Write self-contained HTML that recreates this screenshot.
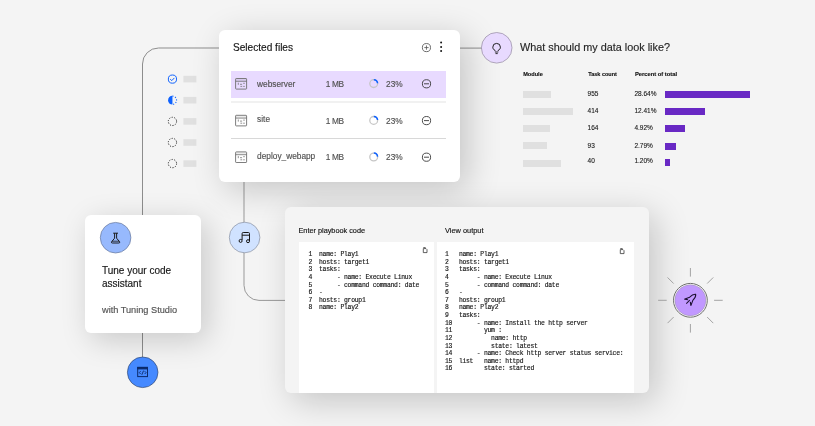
<!DOCTYPE html>
<html><head><meta charset="utf-8">
<style>
*{box-sizing:border-box;margin:0;padding:0}
html,body{width:815px;height:426px;overflow:hidden;background:#f4f4f4}
body{position:relative;font-family:"Liberation Sans",sans-serif;color:#161616}
.abs{position:absolute}
.t{position:absolute;white-space:nowrap;line-height:1;-webkit-text-stroke:0.15px currentColor}
svg{position:absolute;overflow:visible}
.card{position:absolute;background:#fff;border-radius:6px}
.mono{position:absolute;font-family:"Liberation Mono",monospace;font-size:6.4px;letter-spacing:-0.26px;line-height:7.61px;white-space:pre;color:#161616}
.num{-webkit-text-stroke:0.18px #161616}
.mono{-webkit-text-stroke:0.15px #161616}
.gb{position:absolute;background:#e0e0e0;height:7px}
.pb{position:absolute;background:#6929c4;height:7px}
.tn{position:absolute;white-space:nowrap;line-height:1;font-size:6.5px;color:#161616;-webkit-text-stroke:0.1px currentColor}
</style></head>
<body>
<svg width="815" height="426" style="left:0;top:0">
  <g fill="none" stroke="#8d8d8d" stroke-width="1">
    <path d="M142.5 216 V64 A16 16 0 0 1 158.5 48 H220"/>
    <path d="M142.5 332 V358"/>
    <path d="M459 48.1 H482"/>
    <path d="M244 181 V285.4 A15 15 0 0 0 259 300.4 H286" stroke="#999"/>
  </g>
</svg>
<svg width="815" height="426" style="left:0;top:0">
<circle cx="172.45" cy="79.1" r="4.1" fill="none" stroke="#0f62fe" stroke-width="1"/>
<path d="M170.2 79.2 L171.8 80.6 L174.4 77.9" fill="none" stroke="#0f62fe" stroke-width="1"/>
<path d="M172.45 95.8 A4.4 4.4 0 0 0 172.45 104.60000000000001 Z" fill="#0f62fe"/>
<path d="M172.45 96.10000000000001 A4.1 4.1 0 0 1 172.45 104.3" fill="none" stroke="#0f62fe" stroke-width="1.1" stroke-dasharray="1.1 1.6"/>
<circle cx="172.45" cy="121.4" r="4.15" fill="none" stroke="#262626" stroke-width="1" stroke-dasharray="1.15 1.456"/>
<circle cx="172.45" cy="142.5" r="4.15" fill="none" stroke="#262626" stroke-width="1" stroke-dasharray="1.15 1.456"/>
<circle cx="172.45" cy="163.6" r="4.15" fill="none" stroke="#262626" stroke-width="1" stroke-dasharray="1.15 1.456"/>
<rect x="183.4" y="75.80" width="13" height="6.6" fill="#e0e0e0"/>
<rect x="183.4" y="96.90" width="13" height="6.6" fill="#e0e0e0"/>
<rect x="183.4" y="118.10" width="13" height="6.6" fill="#e0e0e0"/>
<rect x="183.4" y="139.20" width="13" height="6.6" fill="#e0e0e0"/>
<rect x="183.4" y="160.30" width="13" height="6.6" fill="#e0e0e0"/>
</svg>
<div class="card" id="files" style="left:219px;top:30px;width:241px;height:152px;box-shadow:7px 7px 34px rgba(0,0,0,0.20)"></div>
<div class="t" id="seltitle" style="left:233px;top:42.55px;font-size:10.1px">Selected files</div>
<svg width="815" height="426" style="left:0;top:0">
<circle cx="426.45" cy="47.6" r="4.05" fill="none" stroke="#525252" stroke-width="0.85"/>
<path d="M424.3 47.6 H428.6 M426.45 45.45 V49.75" stroke="#525252" stroke-width="0.8"/>
<circle cx="441.1" cy="42.6" r="1" fill="#161616"/>
<circle cx="441.1" cy="46.9" r="1" fill="#161616"/>
<circle cx="441.1" cy="51.1" r="1" fill="#161616"/>
</svg>
<div class="abs" style="left:231px;top:71.1px;width:215px;height:26.8px;background:#e8daff"></div>
<div class="abs" style="left:231px;top:101.3px;width:215px;height:1.4px;background:#f1f1f1"></div>
<div class="abs" style="left:231px;top:138px;width:215px;height:0.9px;background:#d8d8d8"></div>
<svg width="815" height="426" style="left:0;top:0">
<rect x="235.6" y="78.50" width="11" height="10.6" rx="0.6" fill="none" stroke="#6f6f6f" stroke-width="0.9"/>
<rect x="236.04999999999998" y="78.95" width="10.1" height="2.2" fill="rgba(0,0,0,0.07)"/>
<path d="M235.6 81.30 H246.6" stroke="#6f6f6f" stroke-width="0.8"/>
<path d="M238.29999999999998 82.70 v2.1 M240.0 84.30 h2.1 M240.4 86.40 h1.8 M243.2 86.40 h1.6 M243.2 83.30 h1.6" stroke="#6f6f6f" stroke-width="0.75"/>
<circle cx="373.7" cy="83.60" r="3.9" fill="none" stroke="#c6c6c6" stroke-width="1.3"/>
<path d="M373.84 79.70 A3.9 3.9 0 0 1 377.59 83.26" fill="none" stroke="#0f62fe" stroke-width="1.5"/>
<circle cx="426.5" cy="83.80" r="4.1" fill="none" stroke="#393939" stroke-width="0.9"/>
<path d="M424 83.80 H429" stroke="#393939" stroke-width="0.9"/>
<rect x="235.6" y="115.30" width="11" height="10.6" rx="0.6" fill="none" stroke="#6f6f6f" stroke-width="0.9"/>
<rect x="236.04999999999998" y="115.75" width="10.1" height="2.2" fill="rgba(0,0,0,0.07)"/>
<path d="M235.6 118.10 H246.6" stroke="#6f6f6f" stroke-width="0.8"/>
<path d="M238.29999999999998 119.50 v2.1 M240.0 121.10 h2.1 M240.4 123.20 h1.8 M243.2 123.20 h1.6 M243.2 120.10 h1.6" stroke="#6f6f6f" stroke-width="0.75"/>
<circle cx="373.7" cy="120.40" r="3.9" fill="none" stroke="#c6c6c6" stroke-width="1.3"/>
<path d="M373.84 116.50 A3.9 3.9 0 0 1 377.59 120.06" fill="none" stroke="#0f62fe" stroke-width="1.5"/>
<circle cx="426.5" cy="120.60" r="4.1" fill="none" stroke="#393939" stroke-width="0.9"/>
<path d="M424 120.60 H429" stroke="#393939" stroke-width="0.9"/>
<rect x="235.6" y="151.90" width="11" height="10.6" rx="0.6" fill="none" stroke="#6f6f6f" stroke-width="0.9"/>
<rect x="236.04999999999998" y="152.35" width="10.1" height="2.2" fill="rgba(0,0,0,0.07)"/>
<path d="M235.6 154.70 H246.6" stroke="#6f6f6f" stroke-width="0.8"/>
<path d="M238.29999999999998 156.10 v2.1 M240.0 157.70 h2.1 M240.4 159.80 h1.8 M243.2 159.80 h1.6 M243.2 156.70 h1.6" stroke="#6f6f6f" stroke-width="0.75"/>
<circle cx="373.7" cy="157.00" r="3.9" fill="none" stroke="#c6c6c6" stroke-width="1.3"/>
<path d="M373.84 153.10 A3.9 3.9 0 0 1 377.59 156.66" fill="none" stroke="#0f62fe" stroke-width="1.5"/>
<circle cx="426.5" cy="157.20" r="4.1" fill="none" stroke="#393939" stroke-width="0.9"/>
<path d="M424 157.20 H429" stroke="#393939" stroke-width="0.9"/>
</svg>
<div class="t" id="fn0" style="left:257.1px;top:79.67px;font-size:8.3px;color:#525252">webserver</div>
<div class="t" id="mb0" style="left:325.7px;top:79.87px;font-size:8.3px;letter-spacing:-0.35px;color:#525252">1 MB</div>
<div class="t" id="pc0" style="left:386.1px;top:79.87px;font-size:8.3px;color:#525252">23%</div>
<div class="t" id="fn1" style="left:257.1px;top:115.17px;font-size:8.3px;color:#525252">site</div>
<div class="t" id="mb1" style="left:325.7px;top:117.27px;font-size:8.3px;letter-spacing:-0.35px;color:#525252">1 MB</div>
<div class="t" id="pc1" style="left:386.1px;top:117.27px;font-size:8.3px;color:#525252">23%</div>
<div class="t" id="fn2" style="left:257.1px;top:152.17px;font-size:8.3px;color:#525252">deploy_webapp</div>
<div class="t" id="mb2" style="left:325.7px;top:153.07px;font-size:8.3px;letter-spacing:-0.35px;color:#525252">1 MB</div>
<div class="t" id="pc2" style="left:386.1px;top:153.07px;font-size:8.3px;color:#525252">23%</div>
<div class="card" id="tune" style="left:85px;top:215px;width:115.8px;height:117.5px;box-shadow:6px 7px 30px rgba(0,0,0,0.18)"></div>
<svg width="815" height="426" style="left:0;top:0"><circle cx="115.6" cy="237.7" r="15.3" fill="#97b9fd" stroke="#5a6a8a" stroke-width="0.6"/></svg>
<div class="t" id="tune1" style="left:102px;top:263.59px;font-size:10px;line-height:13.5px">Tune your code<br>assistant</div>
<div class="t" id="tune2" style="left:102px;top:306.41px;font-size:9.2px;color:#525252">with Tuning Studio</div>
<svg width="17" height="17" style="left:107px;top:229px" fill="none" stroke="#161616" stroke-width="1">
<path d="M6.2 4.2 H11 M7.6 4.2 V9.2 L4.5 12.9 Q4.1 14 5.4 14 H11.8 Q13.1 14 12.7 12.9 L9.6 9.2 V4.2" stroke-width="0.95"/>
<path d="M5 12.2 H12.2" stroke-width="0.8"/>
</svg>
<svg width="815" height="426" style="left:0;top:0"><circle cx="142.7" cy="372.3" r="15.3" fill="#4589ff" stroke="#2a3a5a" stroke-width="0.6"/></svg>
<svg width="18" height="18" style="left:134px;top:363px" fill="none" stroke="#0b2a6b" stroke-width="1">
<rect x="3.7" y="4.4" width="9.8" height="9.2"/>
<rect x="3.7" y="4.4" width="9.8" height="1.5" fill="#0b2a6b"/>
<path d="M6.6 8.2 L5.3 9.6 L6.6 11 M10.7 8.2 L12 9.6 L10.7 11 M9.6 7.6 L7.8 11.8" stroke-width="0.9"/>
</svg>
<svg width="815" height="426" style="left:0;top:0"><circle cx="244.6" cy="237.5" r="15.3" fill="#d0e2ff" stroke="#7a8290" stroke-width="0.6"/></svg>
<svg width="17" height="17" style="left:236px;top:229px" fill="none" stroke="#161616" stroke-width="1">
<path d="M6.1 11 V4.6 Q6.1 3.5 7.2 3.5 H12.4 Q13.5 3.5 13.5 4.6 V12"/>
<path d="M6.1 6.2 H13.5"/>
<circle cx="4.6" cy="11.9" r="1.5"/>
<circle cx="12" cy="12.2" r="1.5"/>
</svg>
<svg width="815" height="426" style="left:0;top:0"><circle cx="496.7" cy="47.8" r="15.3" fill="#e8daff" stroke="#857a90" stroke-width="0.6"/></svg>
<svg width="17" height="17" style="left:488px;top:39.5px" fill="none" stroke="#161616" stroke-width="0.95">
<path d="M7.1 11.1 V10.5 C5.6 9.7 4.8 8.6 4.8 7.2 A3.8 3.8 0 0 1 12.4 7.2 C12.4 8.6 11.6 9.7 10.1 10.5 V11.1"/>
<path d="M6.9 12.0 H10.3 M7.5 13.6 H9.7" stroke-width="0.9"/>
</svg>
<div class="t" id="whattitle" style="left:519.9px;top:41.82px;font-size:10.85px;color:#262626">What should my data look like?</div>
<div class="t" style="left:523.2px;top:71.86px;font-size:5.6px;font-weight:bold">Module</div>
<div class="t" style="left:588.3px;top:71.94px;font-size:5.5px;font-weight:bold">Task count</div>
<div class="t" style="left:634.9px;top:71.69px;font-size:5.8px;font-weight:bold">Percent of total</div>
<div class="gb" style="left:522.6px;top:91.0px;width:28.7px"></div><div class="pb" style="left:664.9px;top:90.7px;width:85.6px"></div><div class="tn" style="left:587.6px;top:90.70px">955</div><div class="tn" style="left:634.4px;top:90.70px">28.64%</div>
<div class="gb" style="left:522.6px;top:107.5px;width:50.7px"></div><div class="pb" style="left:664.9px;top:107.5px;width:40.6px"></div><div class="tn" style="left:587.6px;top:107.80px">414</div><div class="tn" style="left:634.4px;top:107.80px">12.41%</div>
<div class="gb" style="left:522.6px;top:124.8px;width:27.3px"></div><div class="pb" style="left:664.9px;top:125.0px;width:20.5px"></div><div class="tn" style="left:587.6px;top:125.40px">164</div><div class="tn" style="left:634.4px;top:125.40px">4.92%</div>
<div class="gb" style="left:522.6px;top:142.3px;width:24.3px"></div><div class="pb" style="left:664.9px;top:142.8px;width:11px"></div><div class="tn" style="left:587.6px;top:142.80px">93</div><div class="tn" style="left:634.4px;top:142.80px">2.79%</div>
<div class="gb" style="left:522.6px;top:159.9px;width:38.4px"></div><div class="pb" style="left:664.9px;top:158.7px;width:5.3px"></div><div class="tn" style="left:587.6px;top:158.30px">40</div><div class="tn" style="left:634.4px;top:158.30px">1.20%</div>
<div class="abs" id="codecard" style="left:285.2px;top:207px;width:363.5px;height:186px;background:#f4f4f4;border-radius:6px;box-shadow:7px 8px 34px rgba(0,0,0,0.20)"></div>
<div class="abs" style="left:299px;top:241.7px;width:135.2px;height:151.5px;background:#fff"></div>
<div class="abs" style="left:437px;top:241.7px;width:197px;height:151.5px;background:#fff"></div>
<div class="t" id="entertitle" style="left:298.5px;top:226.82px;font-size:7.3px">Enter playbook code</div>
<div class="t" id="viewtitle" style="left:445px;top:226.74px;font-size:7.4px">View output</div>
<div class="mono num" style="left:308.6px;top:251.19px">1
2
3
4
5
6
7
8</div>
<div class="mono" style="left:319px;top:251.19px">name: Play1
hosts: target1
tasks:
     - name: Execute Linux
     - command command: date
-
hosts: group1
name: Play2</div>
<div class="mono num" style="left:445px;top:251.19px">1
2
3
4
5
6
7
8
9
10
11
12
13
14
15
16</div>
<div class="mono" style="left:458.9px;top:251.19px">name: Play1
hosts: target1
tasks:
     - name: Execute Linux
     - command command: date
-
hosts: group1
name: Play2
tasks:
     - name: Install the http server
       yum :
         name: http
         state: latest
     - name: Check http server status service:
list   name: httpd
       state: started</div>
<svg width="10" height="10" style="left:420.3px;top:244.9px" fill="none" stroke="#393939" stroke-width="0.8">
<path d="M3.3 3.6 V7.6 H7 V4.6 L6 3.6 Z"/><path d="M3.3 2.6 H5.6"/></svg>
<svg width="10" height="10" style="left:616.6px;top:246.3px" fill="none" stroke="#393939" stroke-width="0.8">
<path d="M3.3 3.6 V7.6 H7 V4.6 L6 3.6 Z"/><path d="M3.3 2.6 H5.6"/></svg>
<svg width="815" height="426" style="left:0;top:0" fill="none" stroke="#9a9a9a" stroke-width="0.9"><path d="M714.10 300.30 L722.70 300.30"/><path d="M707.16 317.06 L713.24 323.14"/><path d="M690.40 324.00 L690.40 332.60"/><path d="M673.64 317.06 L667.56 323.14"/><path d="M666.70 300.30 L658.10 300.30"/><path d="M673.64 283.54 L667.56 277.46"/><path d="M690.40 276.60 L690.40 268.00"/><path d="M707.16 283.54 L713.24 277.46"/><circle cx="690.4" cy="300.3" r="16.9" fill="#fff" stroke="#6f6f6f" stroke-width="1"/><circle cx="690.4" cy="300.3" r="15.6" fill="#c198ff" stroke="#8d8d8d" stroke-width="0.4"/></svg>
<svg width="19" height="19" style="left:681px;top:291px" fill="none" stroke="#1c0f30" stroke-width="1.05" stroke-linejoin="round">
<g transform="translate(14.7 3.3) rotate(45)">
<path d="M1.6 9.2 L4.2 11.2 Q4.6 11.4 4.4 10.9 L2.2 6.3 C2.3 3.6 1.7 1.3 0 0 C-1.7 1.3 -2.3 3.6 -2.2 6.3 L-4.4 10.9 Q-4.6 11.4 -4.2 11.2 L-1.6 9.2"/>
<path d="M0 8.4 V13.3"/>
</g>
</svg>
</body></html>
